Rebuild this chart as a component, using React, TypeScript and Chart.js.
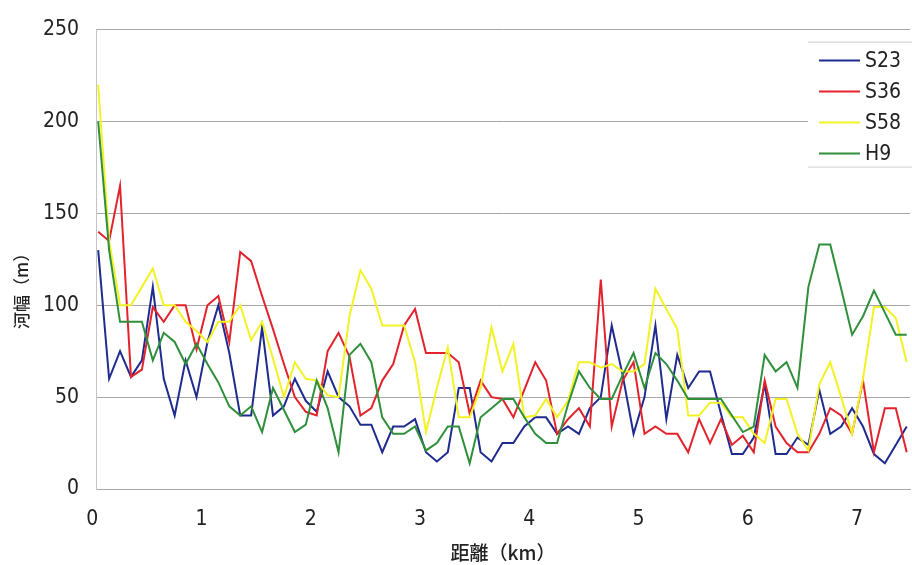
import React, { useEffect, useRef } from "react";
import { Chart, registerables } from "chart.js";

Chart.register(...registerables);

const distances = [
  0.0, 0.1, 0.2, 0.3, 0.4, 0.5, 0.6, 0.7, 0.8, 0.9,
  1.0, 1.1, 1.2, 1.3, 1.4, 1.5, 1.6, 1.7, 1.8, 1.9,
  2.0, 2.1, 2.2, 2.3, 2.4, 2.5, 2.6, 2.7, 2.8, 2.9,
  3.0, 3.1, 3.2, 3.3, 3.4, 3.5, 3.6, 3.7, 3.8, 3.9,
  4.0, 4.1, 4.2, 4.3, 4.4, 4.5, 4.6, 4.7, 4.8, 4.9,
  5.0, 5.1, 5.2, 5.3, 5.4, 5.5, 5.6, 5.7, 5.8, 5.9,
  6.0, 6.1, 6.2, 6.3, 6.4, 6.5, 6.6, 6.7, 6.8, 6.9,
  7.0, 7.1, 7.2, 7.3, 7.4,
];

const seriesNames = ["S23", "S36", "S58", "H9"];

const s23 = [
  130, 60, 75, 61, 70, 110, 60, 40, 70, 50,
  80, 100, 74, 40, 40, 88, 40, 45, 60, 48,
  42, 64, 50, 45, 35, 35, 20, 34, 34, 38,
  20, 15, 20, 55, 55, 20, 15, 25, 25, 34,
  39, 39, 30, 34, 30, 44, 50, 89, 62, 30,
  50, 89, 38, 73, 55, 64, 64, 41, 19, 19,
  28, 57, 19, 19, 28, 24, 54, 30, 34, 44,
  34, 19, 14, 24, 34,
];

const s36 = [
  140, 135, 165, 61, 65, 99, 91, 100, 100, 76,
  100, 105, 80, 129, 124, 105, 87, 68, 50, 42,
  40, 75, 85, 72, 40, 44, 59, 68, 89, 98,
  74, 74, 74, 69, 41, 59, 50, 49, 39, 54,
  69, 59, 30, 38, 44, 34, 114, 34, 59, 69,
  30, 34, 30, 30, 20, 38, 25, 38, 24, 29,
  20, 59, 34, 25, 20, 20, 30, 44, 40, 30,
  59, 20, 44, 44, 20,
];

const s58 = [
  220, 135, 100, 100, 110, 120, 100, 100, 91, 86,
  80, 91, 91, 100, 81, 91, 71, 50, 69, 60,
  59, 51, 50, 94, 119, 109, 89, 89, 89, 69,
  31, 55, 77, 39, 39, 55, 88, 64, 79, 39,
  40, 49, 39, 48, 69, 69, 66, 68, 64, 64,
  68, 109, 98, 87, 40, 40, 47, 47, 39, 39,
  30, 25, 49, 49, 30, 21, 57, 69, 50, 30,
  60, 99, 99, 93, 69,
];

const h9 = [
  200, 130, 91, 91, 91, 70, 85, 80, 68, 79,
  68, 58, 45, 40, 45, 31, 55, 43, 31, 35,
  59, 44, 20, 73, 79, 69, 39, 30, 30, 34,
  21, 25, 34, 34, 14, 39, 44, 49, 49, 39,
  30, 25, 25, 46, 64, 55, 49, 49, 62, 74,
  55, 74, 68, 59, 49, 49, 49, 49, 40, 31,
  34, 73, 64, 69, 55, 110, 133, 133, 109, 84,
  94, 108, 96, 84, 84,
];

const yTickValues = [0, 50, 100, 150, 200, 250];
const xTickValues = [0, 1, 2, 3, 4, 5, 6, 7];

const xTitle = "距離（km）";
const yTitle = "河幅（m）";

const colors = ["#1f2b8f", "#e3232c", "#f2f224", "#2f8f3a"];

const tickFont = { family: "'Liberation Sans Narrow', 'DejaVu Sans Condensed', sans-serif", size: 21 };
const cjkFont = "'Noto Sans CJK JP', sans-serif";

const boxLegend = {
  id: "boxLegend",
  afterDatasetsDraw(chart: any) {
    const { ctx, chartArea } = chart;
    const x0 = chartArea.right - 102;
    const y0 = chartArea.top + 12;
    const w = 106;
    const h = 125;
    ctx.save();
    ctx.fillStyle = "#ffffff";
    ctx.fillRect(x0, y0, w, h);
    ctx.strokeStyle = "#cfcfcf";
    ctx.lineWidth = 1;
    ctx.beginPath();
    ctx.moveTo(x0, y0 + 0.5);
    ctx.lineTo(x0 + w, y0 + 0.5);
    ctx.moveTo(x0, y0 + h + 0.5);
    ctx.lineTo(x0 + w, y0 + h + 0.5);
    ctx.stroke();
    ctx.font = `${tickFont.size}px ${tickFont.family}`;
    ctx.textBaseline = "middle";
    ctx.textAlign = "left";
    chart.data.datasets.forEach((ds: any, i: number) => {
      const y = y0 + 19 + i * 31;
      ctx.strokeStyle = ds.borderColor;
      ctx.lineWidth = 2;
      ctx.beginPath();
      ctx.moveTo(x0 + 11, y);
      ctx.lineTo(x0 + 52, y);
      ctx.stroke();
      ctx.fillStyle = "#222222";
      ctx.fillText(ds.label, x0 + 57, y + 1);
    });
    ctx.restore();
  },
};

const yTitlePlugin = {
  id: "yTitlePlugin",
  afterDraw(chart: any) {
    const { ctx, chartArea } = chart;
    ctx.save();
    ctx.translate(22, chartArea.top + (chartArea.bottom - chartArea.top) * 0.56);
    ctx.rotate(-Math.PI / 2);
    ctx.font = `500 17px ${cjkFont}`;
    ctx.fillStyle = "#222222";
    ctx.textAlign = "center";
    ctx.textBaseline = "middle";
    ctx.fillText(yTitle, 0, 0);
    ctx.restore();
  },
};

export default function App() {
  const canvasRef = useRef<HTMLCanvasElement | null>(null);

  useEffect(() => {
    document.body.style.margin = "0";
    const canvas = canvasRef.current;
    if (!canvas) return;
    const all = [s23, s36, s58, h9];
    const datasets = all.map((vals, k) => ({
      label: seriesNames[k],
      data: vals.map((v, i) => ({ x: distances[i], y: v })),
      borderColor: colors[k],
      backgroundColor: colors[k],
      borderWidth: 2,
      pointRadius: 0,
      tension: 0,
      fill: false,
      order: 4 - k,
    }));

    const chart = new Chart(canvas, {
      type: "line",
      data: { datasets },
      plugins: [boxLegend, yTitlePlugin],
      options: {
        animation: false,
        responsive: false,
        devicePixelRatio: 1,
        layout: { padding: { top: 24, right: 2, left: 0, bottom: 0 } },
        plugins: {
          legend: { display: false },
          tooltip: { enabled: false },
        },
        scales: {
          x: {
            type: "linear",
            min: -0.02,
            max: 7.43,
            afterBuildTicks: (scale: any) => {
              scale.ticks = xTickValues.map((v) => ({ value: v }));
            },
            afterFit: (scale: any) => {
              scale.height = 76;
            },
            grid: { display: false, drawTicks: false },
            border: { display: true, color: "#a8a8a8", width: 1 },
            ticks: {
              padding: 18,
              labelOffset: -6,
              color: "#222222",
              font: tickFont,
              maxRotation: 0,
              callback: (v: any) => String(v),
            },
            title: {
              display: true,
              text: xTitle,
              color: "#222222",
              font: { family: cjkFont, size: 19, weight: "500" },
              padding: { top: 0, bottom: 1 },
            },
          },
          y: {
            type: "linear",
            min: 0,
            max: 250,
            afterBuildTicks: (scale: any) => {
              scale.ticks = yTickValues.map((v) => ({ value: v }));
            },
            afterFit: (scale: any) => {
              scale.width = 96;
            },
            grid: { color: "#a8a8a8", lineWidth: 1, drawTicks: false },
            border: { display: true, color: "#c4c4c4", width: 1 },
            ticks: {
              padding: 17,
              color: "#222222",
              font: tickFont,
            },
            title: { display: false },
          },
        },
      } as any,
    });
    return () => chart.destroy();
  }, []);

  return (
    <div style={{ width: 912, height: 565 }}>
      <canvas ref={canvasRef} width={912} height={565} style={{ display: "block" }} />
    </div>
  );
}
